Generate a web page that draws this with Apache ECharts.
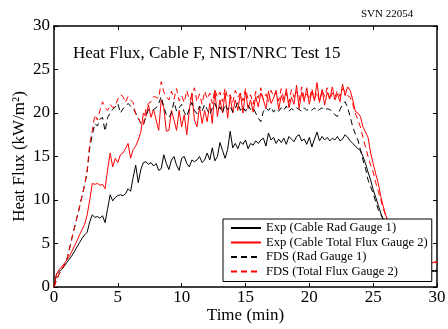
<!DOCTYPE html>
<html><head><meta charset="utf-8">
<script src="https://cdn.jsdelivr.net/npm/echarts@6/dist/echarts.min.js"></script>
<style>html,body{margin:0;padding:0;background:#fff}#c{width:448px;height:329px}</style>
</head><body><div id="c"></div>
<script>
// sampling grid: time in minutes, every 0.2 min from 0 to 30
const time = Array.from({length: 151}, (_, i) => +(i * 0.2).toFixed(1));
const xTicks = [0, 5, 10, 15, 20, 25, 30];
const yTicks = [0, 5, 10, 15, 20, 25, 30];
const seriesNames = ['Exp (Cable Rad Gauge 1)', 'Exp (Cable Total Flux Gauge 2)', 'FDS (Rad Gauge 1)', 'FDS (Total Flux Gauge 2)'];

const expRad = [
 0, 1.5, 1.8, 2.0, 2.4, 2.8, 3.2, 3.6, 4.1, 4.6,
 5.1, 5.6, 6.0, 6.3, 7.5, 8.3, 8.0, 8.1, 7.9, 8.2,
 7.4, 9.0, 10.6, 9.9, 10.3, 10.5, 10.6, 10.5, 10.7, 11.3,
 11.0, 12.6, 14.0, 12.0, 13.5, 14.3, 14.4, 14.1, 14.3, 13.9,
 14.2, 13.4, 13.6, 15.2, 14.2, 13.5, 14.6, 15.0, 14.0, 13.4,
 14.8, 15.0, 14.2, 13.8, 14.6, 14.4, 14.6, 15.0, 14.3, 14.6,
 15.4, 14.6, 16.0, 14.5, 15.0, 16.6, 15.7, 14.8, 15.8, 17.9,
 16.0, 16.5, 15.9, 16.7, 16.4, 16.9, 15.9, 16.5, 16.3, 16.8,
 16.5, 16.9, 17.1, 16.2, 17.7, 16.9, 17.2, 16.5, 17.0, 16.6,
 17.1, 16.4, 17.3, 17.0, 16.7, 17.3, 17.5, 16.8, 17.0, 16.4,
 17.2, 16.1, 17.0, 17.8, 16.8, 17.3, 16.9, 17.2, 16.8, 17.1,
 16.9, 17.3, 16.8, 17.0, 17.5, 17.2, 16.8, 16.5, 16.2, 15.9,
 15.7, 15.0, 14.2, 13.2, 12.3, 11.2, 10.3, 9.4, 8.5, 7.6,
 6.8, 6.0, 5.2, 4.5, 3.8, 3.2, 2.8, 2.5, 2.3, 2.2,
 2.1, 2.0, 2.0, 1.9, 2.0, 1.9, 1.9, 2.0, 1.9, 1.9,
 1.9
];
const expTotal = [
 0, 1.5, 2.0, 2.3, 2.7, 3.1, 3.5, 4.1, 4.7, 5.3,
 6.0, 6.6, 7.2, 8.3, 10.0, 11.9, 11.8, 11.9, 11.7, 11.8,
 11.3, 13.5, 15.4, 13.8, 14.8, 14.3, 15.2, 15.4, 15.9, 16.5,
 14.8, 15.8, 16.2, 16.9, 17.8, 20.0, 19.6, 20.9, 19.5, 20.4,
 19.2, 18.0, 21.5, 20.6, 17.9, 18.0, 20.3, 19.2, 18.0, 20.3,
 18.4, 19.8, 17.5, 20.3, 22.3, 19.2, 18.4, 20.7, 18.8, 20.3,
 19.0, 21.1, 18.8, 22.6, 19.6, 21.5, 20.0, 22.3, 19.4, 21.9,
 20.0, 21.5, 20.3, 22.3, 20.0, 22.5, 20.5, 21.5, 20.1, 21.9,
 20.7, 22.3, 21.5, 20.5, 22.5, 21.1, 21.7, 22.6, 20.4, 22.0,
 21.2, 22.8, 20.6, 21.8, 21.0, 23.2, 20.5, 22.4, 21.3, 22.9,
 21.0, 22.5, 21.4, 23.5, 21.2, 22.7, 20.9, 22.4, 21.6, 23.0,
 21.5, 22.2, 21.3, 23.3, 22.0, 23.0, 22.6, 21.5, 20.2, 20.0,
 19.6, 18.4, 17.8, 17.2, 15.4, 14.2, 13.0, 11.9, 10.4, 9.2,
 8.2, 7.3, 6.4, 5.6, 4.9, 4.3, 3.8, 3.4, 3.1, 3.0,
 2.9, 2.9, 2.8, 2.8, 2.9, 2.8, 2.8, 2.8, 2.8, 2.8,
 2.8
];
const fdsRad = [
 0, 0.8, 1.5, 2.0, 2.5, 3.1, 4.3, 5.6, 6.8, 8.0,
 9.2, 10.5, 11.7, 13.3, 16.0, 17.5, 18.8, 18.5, 19.3, 19.5,
 17.9, 19.5, 20.0, 20.4, 20.7, 21.1, 20.0, 20.5, 20.7, 21.1,
 20.8, 20.5, 20.0, 19.4, 18.8, 18.6, 19.6, 20.4, 20.2, 20.4,
 20.6, 21.1, 21.9, 20.7, 19.8, 19.5, 20.0, 21.3, 20.2, 20.6,
 21.0, 20.1, 19.6, 20.5, 21.2, 20.3, 19.9, 20.8, 20.2, 21.0,
 20.4, 19.8, 20.6, 21.1, 20.3, 20.7, 20.0, 21.0, 20.4, 20.8,
 20.1, 20.6, 21.2, 20.3, 20.7, 20.2, 20.9, 20.4, 20.6, 20.0,
 19.4, 19.0, 20.2, 20.6, 20.3, 20.7, 20.1, 20.5, 20.2, 20.6,
 20.3, 20.8, 20.2, 20.5, 20.3, 20.6, 20.4, 20.2, 20.6, 20.3,
 20.5, 20.3, 20.6, 20.2, 20.4, 20.6, 20.3, 20.5, 20.4, 20.2,
 19.8, 19.6, 20.4, 21.0, 21.3, 20.6, 19.6, 18.4, 17.6, 16.9,
 15.8, 14.6, 13.6, 12.3, 11.5, 10.8, 9.8, 8.9, 8.3, 7.8,
 6.8, 5.8, 4.8, 3.8, 3.0, 2.4, 2.0, 1.9, 1.8, 1.8,
 1.8, 1.8, 1.8, 1.8, 1.8, 1.8, 1.8, 1.8, 1.8, 1.8,
 1.8
];
const fdsTotal = [
 0, 0.8, 1.5, 2.0, 2.5, 3.1, 4.3, 5.6, 6.8, 8.0,
 9.2, 10.5, 11.7, 13.4, 16.5, 18.0, 19.8, 19.2, 20.3, 21.3,
 20.6, 20.3, 21.0, 20.6, 20.8, 21.6, 22.1, 21.9, 21.2, 21.9,
 21.5, 21.2, 19.8, 19.4, 18.8, 18.6, 20.5, 21.1, 21.3, 21.9,
 21.8, 21.7, 23.6, 22.4, 21.9, 21.5, 22.5, 21.6, 22.8, 21.4,
 22.0, 21.2, 22.6, 21.5, 21.9, 22.9, 21.3, 22.2, 21.0, 22.5,
 21.6, 22.3, 21.1, 22.7, 21.8, 22.4, 21.3, 22.9, 21.7, 22.1,
 21.2, 22.6, 21.8, 22.3, 21.4, 22.8, 21.6, 22.1, 21.0, 22.5,
 21.7, 22.9, 21.5, 22.2, 21.3, 22.6, 21.9, 22.4, 21.4, 22.8,
 21.6, 22.3, 21.2, 22.7, 21.8, 22.5, 21.4, 23.0, 21.7, 22.2,
 21.5, 22.8, 21.6, 22.4, 21.3, 22.6, 21.9, 22.9, 21.5, 22.3,
 21.8, 22.6, 21.9, 22.8, 22.5, 22.0, 21.8, 21.0, 20.0, 19.2,
 18.4, 17.2, 16.1, 15.0, 14.0, 13.2, 12.0, 11.0, 10.0, 9.0,
 8.1, 7.1, 6.0, 5.0, 4.0, 3.3, 2.8, 2.7, 2.8, 2.9,
 2.9, 2.9, 2.9, 2.9, 2.9, 2.9, 2.9, 2.9, 2.9, 2.9,
 2.9
];

const FONT = 'Liberation Serif';
const zip = v => time.map((t, i) => [t, v[i]]);
function mkSeries(name, vals, color, dashed) {
  return {
    name, type: 'line', data: zip(vals), symbol: 'none', showSymbol: false,
    lineStyle: { color, width: 1, type: dashed ? [6, 4] : 'solid' },
    itemStyle: { color }, emphasis: { disabled: true }, silent: true
  };
}
const axisCommon = {
  type: 'value', min: 0, max: 30, interval: 5,
  splitLine: { show: false },
  axisLine: { show: true, onZero: false, lineStyle: { color: '#000', width: 1.5 } },
  axisTick: { show: true, inside: true, length: 4, lineStyle: { color: '#000', width: 1 } }
};
const chart = echarts.init(document.getElementById('c'), null, { renderer: 'canvas' });
chart.setOption({
  animation: false,
  backgroundColor: '#fff',
  grid: { left: 54, right: 11, top: 26, bottom: 42, containLabel: false, outerBoundsMode: 'none' },
  title: [
    { text: 'Heat Flux, Cable F, NIST/NRC Test 15', left: 73, top: 45, padding: 0,
      textStyle: { fontFamily: FONT, fontSize: 17, fontWeight: 'normal', color: '#000' } },
    { text: 'SVN 22054', left: 361, top: 9, padding: 0,
      textStyle: { fontFamily: FONT, fontSize: 11, fontWeight: 'normal', color: '#000' } }
  ],
  legend: {
    orient: 'vertical', left: 223, top: 219,
    data: seriesNames,
    itemWidth: 30, itemHeight: 14, itemGap: 0.5,
    padding: [2, 4, 3, 7],
    backgroundColor: '#fff', borderColor: '#000', borderWidth: 1,
    itemStyle: { opacity: 0, borderWidth: 0 },
    textStyle: { fontFamily: FONT, fontSize: 12.6, color: '#000', lineHeight: 14 },
    selectedMode: false
  },
  xAxis: [
    Object.assign({}, axisCommon, {
      position: 'bottom', name: 'Time (min)', nameLocation: 'middle', nameGap: 20,
      nameMoveOverlap: false,
      nameTextStyle: { fontFamily: FONT, fontSize: 17, color: '#000' },
      axisLabel: { show: true, margin: 2, fontFamily: FONT, fontSize: 17, color: '#000',
        formatter: v => xTicks.includes(v) ? String(v) : '' }
    }),
    Object.assign({}, axisCommon, { position: 'top', axisLabel: { show: false } })
  ],
  yAxis: [
    Object.assign({}, axisCommon, {
      position: 'left', name: 'Heat Flux (kW/m²)', nameLocation: 'middle', nameGap: 26,
      nameMoveOverlap: false,
      nameTextStyle: { fontFamily: FONT, fontSize: 17, color: '#000' },
      axisLabel: { show: true, margin: 4, fontFamily: FONT, fontSize: 17, color: '#000',
        formatter: v => yTicks.includes(v) ? String(v) : '' }
    }),
    Object.assign({}, axisCommon, { position: 'right', axisLabel: { show: false } })
  ],
  series: [
    mkSeries(seriesNames[0], expRad, '#000', false),
    mkSeries(seriesNames[1], expTotal, '#ff0000', false),
    mkSeries(seriesNames[2], fdsRad, '#000', true),
    mkSeries(seriesNames[3], fdsTotal, '#ff0000', true)
  ]
});
</script></body></html>
